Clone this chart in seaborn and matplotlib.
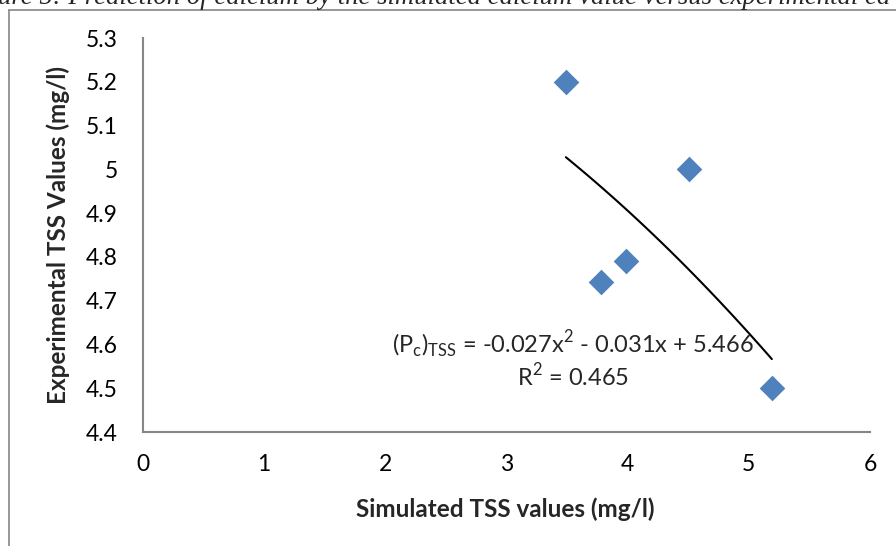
import numpy as np
import pandas as pd
import matplotlib
matplotlib.use('Agg')
import matplotlib.pyplot as plt
from matplotlib.lines import Line2D
import seaborn as sns

# ---- data ----
sim_tss = [3.49, 4.51, 3.985, 3.78, 5.19]
exp_tss = [5.20, 5.00, 4.79, 4.743, 4.50]
x_ticks = [0, 1, 2, 3, 4, 5, 6]
y_ticks = [4.4, 4.5, 4.6, 4.7, 4.8, 4.9, 5.0, 5.1, 5.2, 5.3]
y_tick_labels = ['4.4', '4.5', '4.6', '4.7', '4.8', '4.9', '5', '5.1', '5.2', '5.3']

caption = 'ure 5: Prediction of calcium by the simulated calcium value versus experimental ca'
eq_text = r'(P$_\mathregular{c}$)$_\mathregular{TSS}$ = -0.027x$^\mathregular{2}$ - 0.031x + 5.466'
r2_text = r'R$^\mathregular{2}$ = 0.465'

df = pd.DataFrame({'sim': sim_tss, 'exp': exp_tss})

sns.set_theme(style='white')
plt.rcParams['font.family'] = ['Lato', 'DejaVu Sans']

fig = plt.figure(figsize=(8.96, 5.46), dpi=100)
ax = fig.add_axes([143 / 896, 1 - 432 / 546, (870 - 143) / 896, (432 - 38) / 546])

# polynomial trendline (order 2), then the points
sns.regplot(data=df, x='sim', y='exp', order=2, ci=None, scatter=False,
            truncate=True, ax=ax, line_kws={'color': 'black', 'lw': 1.5})
sns.scatterplot(data=df, x='sim', y='exp', marker='D', s=170, color='#4F81BD',
                edgecolor='#4F81BD', linewidth=0, ax=ax, zorder=3)

ax.set_xlim(0, 6)
ax.set_ylim(4.4, 5.3)
ax.set_xticks(x_ticks)
ax.set_yticks(y_ticks)
ax.set_yticklabels(y_tick_labels)
ax.tick_params(axis='both', length=0, labelsize=16.5, colors='black')
ax.tick_params(axis='x', pad=16)
ax.tick_params(axis='y', pad=18)

ax.set_xlabel('Simulated TSS values (mg/l)', fontsize=17.5, fontweight='bold')
ax.set_ylabel('Experimental TSS Values (mg/l)', fontsize=17.5, fontweight='bold')
ax.xaxis.set_label_coords(0.498, -0.166)
ax.yaxis.set_label_coords(-0.1, 0.5)

for side in ['top', 'right']:
    ax.spines[side].set_visible(False)
for side in ['left', 'bottom']:
    ax.spines[side].set_color('#868686')
    ax.spines[side].set_linewidth(1.5)

ax.text(3.55, 4.599, eq_text, fontsize=17, ha='center', va='center')
ax.text(3.55, 4.527, r2_text, fontsize=17, ha='center', va='center')

# outer chart border and cut caption
fig.add_artist(Line2D([9 / 896, 9 / 896], [0, 1 - 10 / 546], color='#868686', lw=1.2))
fig.add_artist(Line2D([9 / 896, 1], [1 - 10 / 546, 1 - 10 / 546], color='#868686', lw=1.2))
fig.text(-0.002, 1 - 4 / 546, caption, fontsize=19.3, style='italic',
         family=['Liberation Serif'], va='baseline', ha='left')

fig.savefig('out.png', dpi=100)
